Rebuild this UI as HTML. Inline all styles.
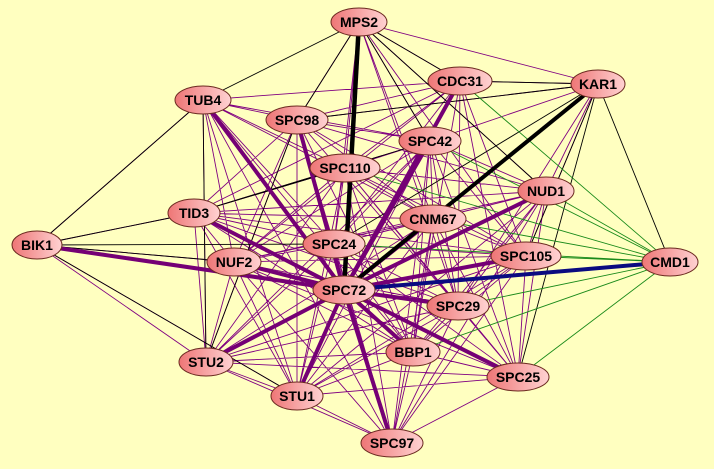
<!DOCTYPE html>
<html><head><meta charset="utf-8"><style>html,body{margin:0;padding:0;background:#ffffc0;}svg{display:block}</style></head><body>
<svg width="714" height="469" xmlns="http://www.w3.org/2000/svg">
<defs><linearGradient id="g" x1="0" x2="1" y1="0" y2="0"><stop offset="0" stop-color="#ee7676"/><stop offset="1" stop-color="#ffd2d2"/></linearGradient></defs>
<rect width="714" height="469" fill="#ffffc0"/>
<g fill="none" stroke="#800080" stroke-width="0.9">
<path d="M359 22L297 120M359 22L430 141M359 22L345 168M359 22L546 191M359 22L433 219M359 22L460 81M359 22L598 84M359 22L526 256M359 22L458 306M359 22L334 244
M460 81L203 100M460 81L297 120M460 81L345 168M460 81L194 213M460 81L334 244M460 81L234 262M460 81L526 256M460 81L458 306M460 81L413 352M460 81L518 377M460 81L598 84
M598 84L430 141M598 84L297 120M598 84L546 191M598 84L526 256M598 84L458 306
M203 100L297 120M203 100L430 141M203 100L345 168M203 100L433 219M203 100L334 244M203 100L234 262M203 100L413 352M203 100L297 396M203 100L392 443M203 100L37 245M203 100L206 362
M297 120L430 141M297 120L546 191M297 120L433 219M297 120L334 244M297 120L234 262M297 120L526 256M297 120L458 306M297 120L413 352M297 120L206 362M297 120L297 396M297 120L392 443M297 120L194 213
M430 141L345 168M430 141L546 191M430 141L194 213M430 141L433 219M430 141L334 244M430 141L234 262M430 141L526 256M430 141L458 306M430 141L413 352M430 141L518 377M430 141L392 443M430 141L297 396M430 141L206 362
M345 168L546 191M345 168L194 213M345 168L433 219M345 168L334 244M345 168L234 262M345 168L526 256M345 168L458 306M345 168L413 352M345 168L206 362M345 168L518 377M345 168L297 396M345 168L392 443
M546 191L194 213M546 191L433 219M546 191L334 244M546 191L234 262M546 191L526 256M546 191L458 306M546 191L413 352M546 191L518 377M546 191L392 443M546 191L297 396
M194 213L433 219M194 213L334 244M194 213L234 262M194 213L526 256M194 213L458 306M194 213L413 352M194 213L206 362M194 213L518 377M194 213L297 396M194 213L37 245
M433 219L334 244M433 219L234 262M433 219L526 256M433 219L458 306M433 219L413 352M433 219L206 362M433 219L518 377M433 219L297 396M433 219L392 443
M37 245L234 262M37 245L206 362M37 245L297 396
M334 244L234 262M334 244L526 256M334 244L458 306M334 244L413 352M334 244L206 362M334 244L518 377M334 244L297 396M334 244L392 443
M234 262L526 256M234 262L458 306M234 262L413 352M234 262L206 362M234 262L518 377M234 262L297 396M234 262L392 443
M526 256L458 306M526 256L413 352M526 256L206 362M526 256L518 377M526 256L297 396M526 256L392 443
M458 306L413 352M458 306L206 362M458 306L518 377M458 306L297 396M458 306L392 443
M413 352L206 362M413 352L518 377M413 352L297 396M413 352L392 443
M206 362L518 377M206 362L297 396M206 362L392 443M518 377L297 396M518 377L392 443M297 396L392 443"/>
</g>
<g fill="none" stroke="#000" stroke-width="0.9">
<path d="M359 22L203 100M359 22L297 120M359 22L430 141M359 22L460 81M359 22L546 191M37 245L203 100M37 245L194 213M37 245L334 244M37 245L234 262M37 245L297 396M203 100L206 362M598 84L670 262M598 84L518 377M598 84L460 81M598 84L297 120M598 84L526 256M194 213L345 168M194 213L430 141M206 362L297 120M334 244L598 84"/>
</g>
<g fill="none" stroke="#1a8a1a" stroke-width="0.9">
<path d="M670 262L460 81M670 262L546 191M670 262L526 256M670 262L458 306M670 262L518 377M670 262L430 141M670 262L433 219M670 262L413 352M670 262L345 168M670 262L334 244"/>
</g>
<g fill="none" stroke="#750075" stroke-width="4">
<path d="M344 290L203 100M344 290L297 120M344 290L37 245M344 290L430 141M344 290L460 81M344 290L546 191M344 290L526 256M344 290L458 306M344 290L413 352M344 290L206 362M344 290L297 396M344 290L392 443M344 290L518 377M344 290L194 213M344 290L234 262M344 290L433 219"/>
</g>
<path d="M359 22L344 290" stroke="#000" stroke-width="4.5"/>
<path d="M598 84L344 290" stroke="#000" stroke-width="4"/>
<path d="M670 262L344 290" stroke="#0a0a80" stroke-width="4"/>
<g stroke="#6b2a20" stroke-width="1" fill="url(#g)">
<ellipse cx="359" cy="22" rx="28" ry="14"/>
<ellipse cx="460" cy="81" rx="32" ry="14"/>
<ellipse cx="598" cy="84" rx="27" ry="14"/>
<ellipse cx="203" cy="100" rx="28" ry="14"/>
<ellipse cx="297" cy="120" rx="31" ry="14"/>
<ellipse cx="430" cy="141" rx="31" ry="14"/>
<ellipse cx="345" cy="168" rx="35" ry="14"/>
<ellipse cx="546" cy="191" rx="28" ry="14"/>
<ellipse cx="194" cy="213" rx="26" ry="14"/>
<ellipse cx="433" cy="219" rx="33" ry="14"/>
<ellipse cx="37" cy="245" rx="25" ry="14"/>
<ellipse cx="334" cy="244" rx="31" ry="14"/>
<ellipse cx="234" cy="262" rx="27" ry="14"/>
<ellipse cx="526" cy="256" rx="35" ry="14"/>
<ellipse cx="670" cy="262" rx="28" ry="14"/>
<ellipse cx="344" cy="290" rx="31" ry="14"/>
<ellipse cx="458" cy="306" rx="31" ry="14"/>
<ellipse cx="413" cy="352" rx="27" ry="14"/>
<ellipse cx="206" cy="362" rx="27" ry="14"/>
<ellipse cx="518" cy="377" rx="31" ry="14"/>
<ellipse cx="297" cy="396" rx="26" ry="14"/>
<ellipse cx="392" cy="443" rx="31" ry="14"/>
</g>
<g font-family="Liberation Sans, sans-serif" font-weight="bold" font-size="14" text-anchor="middle" fill="#000">
<text x="359" y="27">MPS2</text><text x="460" y="86">CDC31</text><text x="598" y="89">KAR1</text>
<text x="203" y="105">TUB4</text><text x="297" y="125">SPC98</text><text x="430" y="146">SPC42</text>
<text x="345" y="173">SPC110</text><text x="546" y="196">NUD1</text><text x="194" y="218">TID3</text>
<text x="433" y="224">CNM67</text><text x="37" y="250">BIK1</text><text x="334" y="249">SPC24</text>
<text x="234" y="267">NUF2</text><text x="526" y="261">SPC105</text><text x="670" y="267">CMD1</text>
<text x="344" y="295">SPC72</text><text x="458" y="311">SPC29</text><text x="413" y="357">BBP1</text>
<text x="206" y="367">STU2</text><text x="518" y="382">SPC25</text><text x="297" y="401">STU1</text>
<text x="392" y="448">SPC97</text>
</g>
</svg>
</body></html>
